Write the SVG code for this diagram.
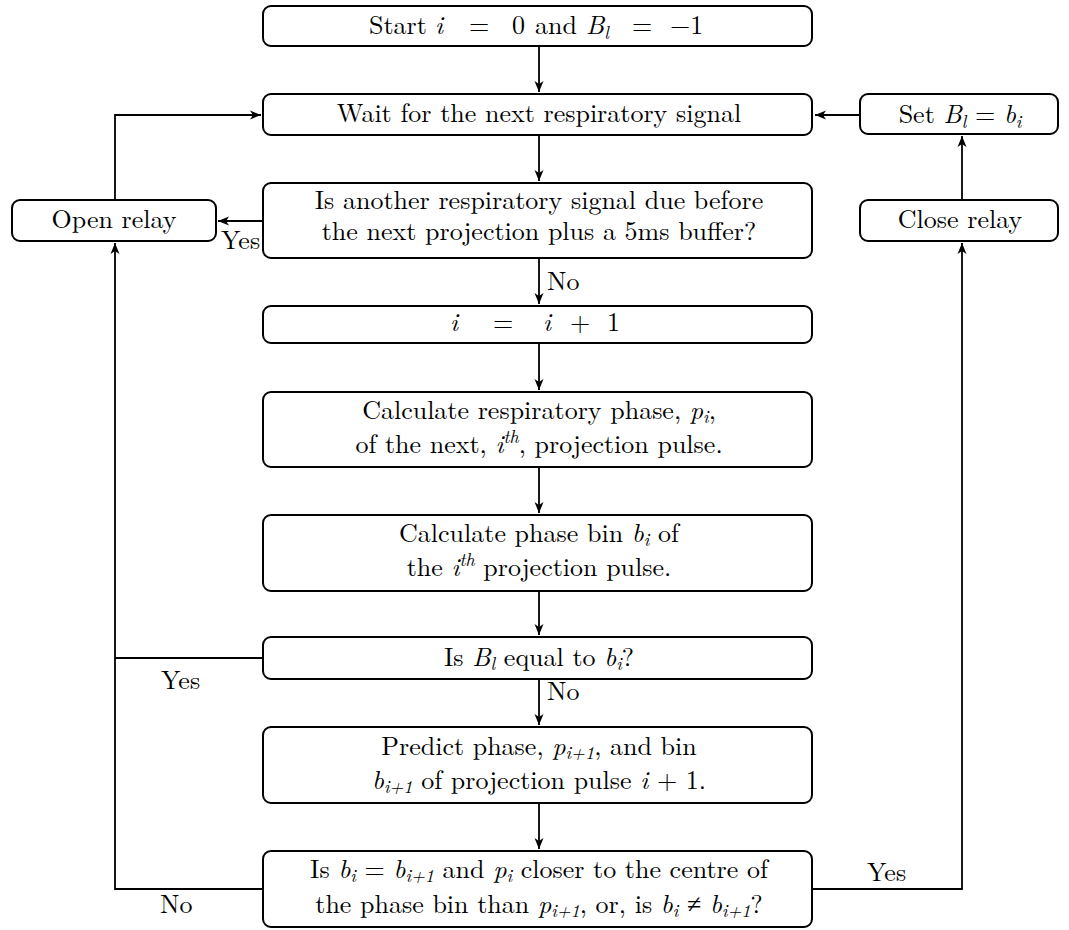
<svg xmlns="http://www.w3.org/2000/svg" width="1069" height="930" viewBox="0 0 1069 930">
<style>
.box{fill:#fff;stroke:#000;stroke-width:2}
.t{font-size:26px;fill:#000;text-anchor:middle}
.l{font-size:26px;fill:#000}
.m{font-style:italic}
.s{font-size:18px}
.c{fill:none;stroke:#000;stroke-width:1.8}
</style>
<defs>
<marker id="ah" markerUnits="userSpaceOnUse" markerWidth="12" markerHeight="10" refX="11" refY="5" orient="auto">
<path d="M0,0.5 L11,5 L0,9.5 L3,5 Z" fill="#000"/>
</marker>
</defs>
<g id="connectors" font-family="Latin Modern Roman, Liberation Serif, serif">
<path class="c" d="M539,46 V92" marker-end="url(#ah)"/>
<path class="c" d="M539,135 V181" marker-end="url(#ah)"/>
<path class="c" d="M539,258 V304" marker-end="url(#ah)"/>
<path class="c" d="M539,343 V390" marker-end="url(#ah)"/>
<path class="c" d="M539,467 V513" marker-end="url(#ah)"/>
<path class="c" d="M539,591 V635" marker-end="url(#ah)"/>
<path class="c" d="M539,679 V725" marker-end="url(#ah)"/>
<path class="c" d="M539,803 V849" marker-end="url(#ah)"/>
<path class="c" d="M263,221 H218" marker-end="url(#ah)"/>
<path class="c" d="M115,200 V115 H261" marker-end="url(#ah)"/>
<path class="c" d="M263,658 H115"/>
<path class="c" d="M263,889 H115 V243" marker-end="url(#ah)"/>
<path class="c" d="M812,889 H962 V243" marker-end="url(#ah)"/>
<path class="c" d="M962,200 V136" marker-end="url(#ah)"/>
<path class="c" d="M860,115 H815" marker-end="url(#ah)"/>
<text class="l" x="221" y="249">Yes</text>
<text class="l" x="547" y="290">No</text>
<text class="l" x="161" y="689">Yes</text>
<text class="l" x="547" y="700">No</text>
<text class="l" x="160" y="913">No</text>
<text class="l" x="867" y="881">Yes</text>
</g>
<g font-family="Latin Modern Roman, Liberation Serif, serif">
<g id="start">
<rect class="box" x="263" y="6" width="549" height="40" rx="8"/>
<text class="l" y="34"><tspan x="369">Start</tspan><tspan class="m" x="435">i</tspan><tspan x="469">=</tspan><tspan x="512">0</tspan><tspan x="535">and</tspan><tspan class="m" x="586">B</tspan><tspan class="m s" dy="5">l</tspan><tspan x="632" dy="-5">=</tspan><tspan x="670">−1</tspan></text>
</g>
<g id="wait">
<rect class="box" x="263" y="94" width="549" height="41" rx="8"/>
<text class="t" x="539" y="122">Wait for the next respiratory signal</text>
</g>
<g id="setBl">
<rect class="box" x="860" y="94" width="198" height="40" rx="8"/>
<text class="t" x="960" y="123">Set <tspan class="m">B</tspan><tspan class="m s" dy="5">l</tspan><tspan dy="-5"> = </tspan><tspan class="m">b</tspan><tspan class="m s" dy="5">i</tspan></text>
</g>
<g id="question1">
<rect class="box" x="263" y="183" width="549" height="75" rx="8"/>
<text class="t" x="539" y="209">Is another respiratory signal due before</text>
<text class="t" x="539" y="240">the next projection plus a 5ms buffer?</text>
</g>
<g id="openRelay">
<rect class="box" x="12" y="200" width="204" height="41" rx="8"/>
<text class="t" x="114" y="228">Open relay</text>
</g>
<g id="closeRelay">
<rect class="box" x="860" y="200" width="198" height="41" rx="8"/>
<text class="t" x="960" y="228">Close relay</text>
</g>
<g id="increment">
<rect class="box" x="263" y="306" width="549" height="37" rx="8"/>
<text class="l" y="331"><tspan class="m" x="450">i</tspan><tspan x="493">=</tspan><tspan class="m" x="543">i</tspan><tspan x="570">+</tspan><tspan x="607">1</tspan></text>
</g>
<g id="calcPhase">
<rect class="box" x="263" y="392" width="549" height="75" rx="8"/>
<text class="t" x="539" y="419">Calculate respiratory phase, <tspan class="m">p</tspan><tspan class="m s" dy="4">i</tspan><tspan dy="-4">,</tspan></text>
<text class="t" x="539" y="453">of the next, <tspan class="m">i</tspan><tspan class="m s" dy="-10">th</tspan><tspan dy="10">, projection pulse.</tspan></text>
</g>
<g id="calcBin">
<rect class="box" x="263" y="515" width="549" height="76" rx="8"/>
<text class="t" x="539" y="542">Calculate phase bin <tspan class="m">b</tspan><tspan class="m s" dy="4">i</tspan><tspan dy="-4"> of</tspan></text>
<text class="t" x="539" y="576">the <tspan class="m">i</tspan><tspan class="m s" dy="-10">th</tspan><tspan dy="10"> projection pulse.</tspan></text>
</g>
<g id="isBlEqual">
<rect class="box" x="263" y="637" width="549" height="42" rx="8"/>
<text class="t" x="539" y="666">Is <tspan class="m">B</tspan><tspan class="m s" dy="4">l</tspan><tspan dy="-4"> equal to </tspan><tspan class="m">b</tspan><tspan class="m s" dy="4">i</tspan><tspan dy="-4">?</tspan></text>
</g>
<g id="predict">
<rect class="box" x="263" y="727" width="549" height="76" rx="8"/>
<text class="t" x="539" y="755">Predict phase, <tspan class="m">p</tspan><tspan class="m s" dy="4">i+1</tspan><tspan dy="-4">, and bin</tspan></text>
<text class="t" x="539" y="789"><tspan class="m">b</tspan><tspan class="m s" dy="4">i+1</tspan><tspan dy="-4"> of projection pulse </tspan><tspan class="m">i</tspan> + 1.</text>
</g>
<g id="finalQuestion">
<rect class="box" x="263" y="851" width="549" height="76" rx="8"/>
<text class="t" x="539" y="878">Is <tspan class="m">b</tspan><tspan class="m s" dy="4">i</tspan><tspan dy="-4"> = </tspan><tspan class="m">b</tspan><tspan class="m s" dy="4">i+1</tspan><tspan dy="-4"> and </tspan><tspan class="m">p</tspan><tspan class="m s" dy="4">i</tspan><tspan dy="-4"> closer to the centre of</tspan></text>
<text class="t" x="539" y="913">the phase bin than <tspan class="m">p</tspan><tspan class="m s" dy="4">i+1</tspan><tspan dy="-4">, or, is </tspan><tspan class="m">b</tspan><tspan class="m s" dy="4">i</tspan><tspan dy="-4"> ≠ </tspan><tspan class="m">b</tspan><tspan class="m s" dy="4">i+1</tspan><tspan dy="-4">?</tspan></text>
</g>
</g>
</svg>
